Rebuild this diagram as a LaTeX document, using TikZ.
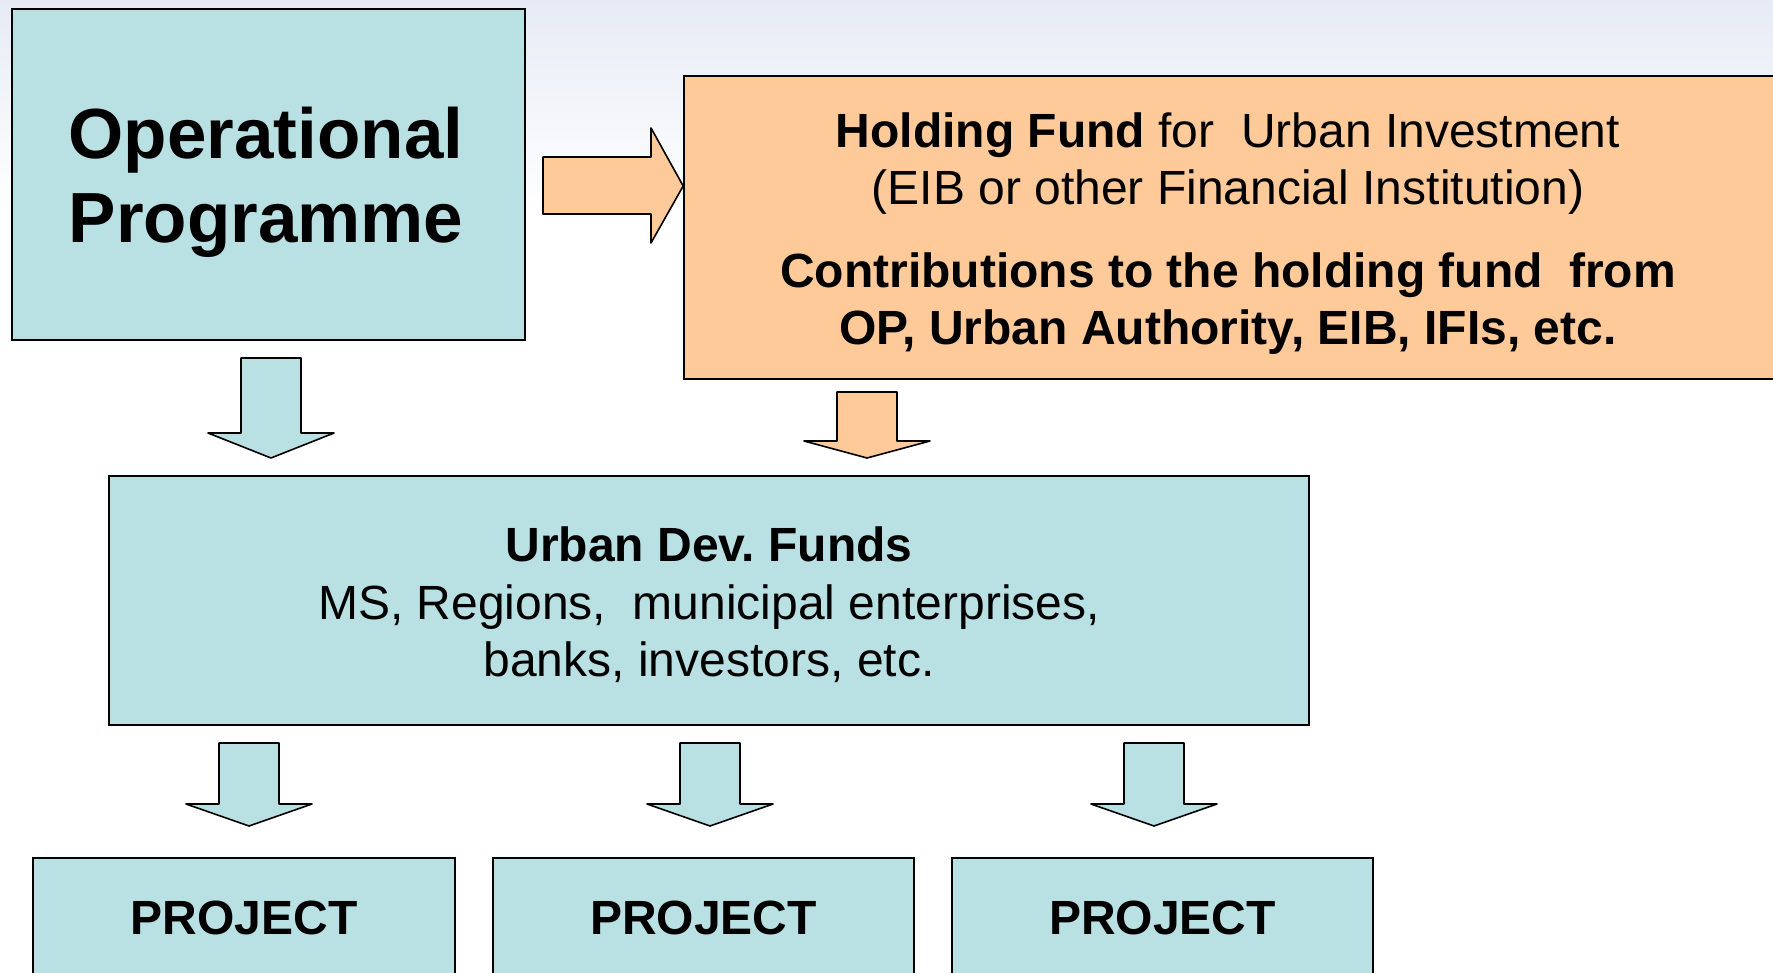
\documentclass[tikz,border=0pt]{standalone}
\usepackage{fontspec}
\setmainfont{Liberation Sans}
\usepackage{tikz}
\usetikzlibrary{positioning}
\frenchspacing

\definecolor{boxblue}{RGB}{185,224,227}
\definecolor{boxorange}{RGB}{255,202,153}
\definecolor{bgtop}{RGB}{231,235,245}

\tikzset{
	box/.style={draw=black, line width=1.6pt, fill=boxblue, inner sep=0pt},
	fundbox/.style={box, fill=boxorange},
	txt/.style={align=center, inner sep=0pt, font=\fontsize{48}{57.5}\selectfont},
	blkarrow/.style={draw=black, line width=1.6pt, line join=round}
}

% block arrow pointing down: x, top, head base, tip, fill
\newcommand\dnarrow[5]{%
	\draw[blkarrow, fill=#5] (#1-30,#2) -- (#1+30,#2) -- (#1+30,#3) -- (#1+63,#3)
		-- (#1,#4) -- (#1-63,#3) -- (#1-30,#3) -- cycle;}

\begin{document}
\begin{tikzpicture}[x=1pt, y=-1pt]
	\useasboundingbox (0,0) rectangle (1773,973);
	\fill[white] (0,0) rectangle (1773,973);
	\shade[top color=bgtop, bottom color=white] (0,0) rectangle (1773,210);

	\node[box, minimum width=513, minimum height=331] (op) at (268.5,174.5) {};
	\node[txt, font=\fontsize{71}{84}\selectfont\bfseries] (optxt) at (266,182) {Operational\\Programme};

	\node[fundbox, minimum width=1110, minimum height=303] (hold) at (1239,227.5) {};
	\node[txt] (holdtxt) at (1228,233.5) {\textbf{Holding Fund} for\ \ Urban Investment\\(EIB or other Financial Institution)\\[25pt]
		\textbf{Contributions to the holding fund\ \ from}\\\textbf{OP, Urban Authority, EIB, IFIs, etc.}};

	\node[box, minimum width=1200, minimum height=249] (udf) at (709,600.5) {};
	\node[txt] (udftxt) at (709,605) {\textbf{Urban Dev. Funds}\\MS, Regions,\ \ municipal enterprises,\\banks, investors, etc.};

	\node[box, minimum width=422, minimum height=140] (proj1) at (244,928) {};
	\node[box, minimum width=421, minimum height=140] (proj2) at (703.5,928) {};
	\node[box, minimum width=421, minimum height=140] (proj3) at (1162.5,928) {};
	\foreach \i in {1,2,3}
		\node[txt, font=\fontsize{48}{57.5}\selectfont\bfseries] (projtxt\i) at (proj\i.center |- 0,918) {PROJECT};

	% arrows
	\coordinate (optip) at (hold.west |- 0,186);
	\draw[blkarrow, fill=boxorange] (543,157) -- (651,157) -- (651,128) -- (optip) -- (651,243) -- (651,214) -- (543,214) -- cycle;
	\dnarrow{271}{358}{433}{458}{boxblue}
	\dnarrow{867}{392}{441}{458}{boxorange}
	\dnarrow{249}{743}{804}{826}{boxblue}
	\dnarrow{710}{743}{804}{826}{boxblue}
	\dnarrow{1154}{743}{804}{826}{boxblue}
\end{tikzpicture}
\end{document}
